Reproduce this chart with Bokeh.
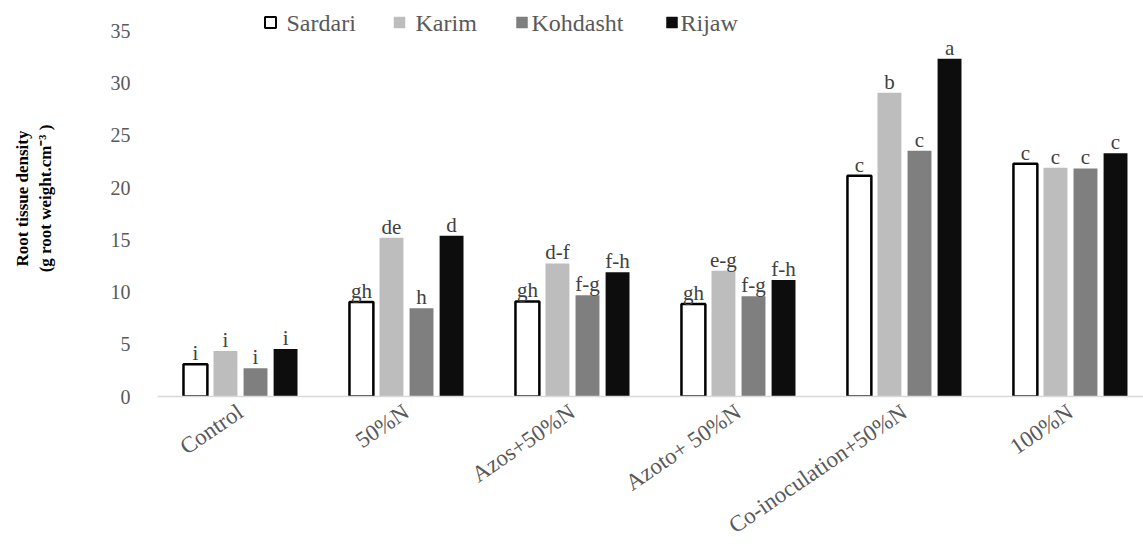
import math
from bokeh.plotting import figure
from bokeh.models import Range1d, FixedTicker, ColumnDataSource
from bokeh.embed import file_html
from bokeh.resources import INLINE
from bokeh.core.properties import value

# ---------------- data ----------------
categories = ["Control", "50%N", "Azos+50%N", "Azoto+ 50%N", "Co-inoculation+50%N", "100%N"]
series_names = ["Sardari", "Karim", "Kohdasht", "Rijaw"]
sardari = [3.1, 9.05, 9.1, 8.85, 21.15, 22.3]
karim = [4.35, 15.2, 12.75, 12.05, 29.1, 21.9]
kohdasht = [2.7, 8.45, 9.7, 9.6, 23.55, 21.85]
rijaw = [4.55, 15.4, 11.9, 11.15, 32.35, 23.3]
letters_sardari = ["i", "gh", "gh", "gh", "c", "c"]
letters_karim = ["i", "de", "d-f", "e-g", "b", "c"]
letters_kohdasht = ["i", "h", "f-g", "f-g", "c", "c"]
letters_rijaw = ["i", "d", "f-h", "f-h", "a", "c"]
y_ticks = [0, 5, 10, 15, 20, 25, 30, 35]
y_label = "Root tissue density\n(g root weight.cm\u207b\u00b3 )"

# ---------------- styles / layout ----------------
FONT = "Liberation Serif"
GREY_TXT = "#595959"
fills = ["white", "#bdbdbd", "#7f7f7f", "#0d0d0d"]
lines = ["black", None, None, None]
line_widths = [2.5, 0, 0, 0]
offsets = [-0.2715, -0.0905, 0.0905, 0.2715]
bar_width = 0.144

W, H = 1143, 551
LEFT, BOTTOM = 157, 155
X_START, X_END = -0.5, 5.44
Y_START, Y_END = 0, 37.93
# legend layout (screen px from page top-left)
leg_square_px = [270, 399, 521.5, 671.5]
leg_text_px = [286, 415, 531, 680]
leg_y_px = 22

def px_to_x(px):
    return X_START + (px - LEFT) * (X_END - X_START) / (W - LEFT)

def py_to_y(py):
    return Y_START + (H - BOTTOM - py) * (Y_END - Y_START) / (H - BOTTOM)

p = figure(width=W, height=H,
           x_range=Range1d(X_START, X_END), y_range=Range1d(Y_START, Y_END),
           output_backend="svg", toolbar_location=None,
           min_border_left=LEFT, min_border_right=0,
           min_border_top=0, min_border_bottom=BOTTOM)
p.outline_line_color = None
p.xgrid.visible = False
p.ygrid.visible = False
p.background_fill_color = "white"

all_vals = [sardari, karim, kohdasht, rijaw]
all_letters = [letters_sardari, letters_karim, letters_kohdasht, letters_rijaw]
for k, (vals, lets) in enumerate(zip(all_vals, all_letters)):
    src = ColumnDataSource(dict(
        x=[i + offsets[k] for i in range(len(categories))],
        top=vals, lab=lets))
    p.vbar(x="x", top="top", bottom=0, width=bar_width, source=src,
           fill_color=fills[k], line_color=lines[k], line_width=line_widths[k])
    p.text(x="x", y="top", text="lab", source=src,
           text_font=value(FONT), text_font_size="21px", text_color="#404040",
           text_align="center", text_baseline="alphabetic", y_offset=-11)
    # legend entry
    p.scatter(x=[px_to_x(leg_square_px[k])], y=[py_to_y(leg_y_px)], marker="square",
              size=11, fill_color=fills[k],
              line_color=lines[k] if lines[k] else fills[k],
              line_width=2 if lines[k] else 0.5)
    p.text(x=[px_to_x(leg_text_px[k])], y=[py_to_y(leg_y_px)], text=[series_names[k]],
           text_font=value(FONT), text_font_size="24px", text_color=GREY_TXT,
           text_align="left", text_baseline="middle")

# axes
p.yaxis.ticker = FixedTicker(ticks=y_ticks)
p.yaxis.axis_line_color = None
p.yaxis.major_tick_line_color = None
p.yaxis.minor_tick_line_color = None
p.yaxis.major_tick_out = 0
p.yaxis.major_tick_in = 0
p.yaxis.major_label_standoff = 27
p.yaxis.major_label_text_font = FONT
p.yaxis.major_label_text_font_size = "20px"
p.yaxis.major_label_text_color = GREY_TXT
p.yaxis.axis_label = y_label
p.yaxis.axis_label_text_font = FONT
p.yaxis.axis_label_text_font_size = "17px"
p.yaxis.axis_label_text_font_style = "bold"
p.yaxis.axis_label_text_color = "black"
p.yaxis.axis_label_standoff = 53

p.xaxis.ticker = FixedTicker(ticks=list(range(len(categories))))
p.xaxis.major_label_overrides = {i: c for i, c in enumerate(categories)}
p.xaxis.major_label_orientation = 0.6
p.xaxis.axis_line_color = "#d9d9d9"
p.xaxis.axis_line_width = 1.5
p.xaxis.major_tick_line_color = None
p.xaxis.minor_tick_line_color = None
p.xaxis.major_tick_out = 0
p.xaxis.major_tick_in = 0
p.xaxis.major_label_standoff = 13
p.xaxis.major_label_text_font = FONT
p.xaxis.major_label_text_font_size = "23px"
p.xaxis.major_label_text_color = GREY_TXT

open("out.html", "w").write(file_html(p, INLINE))
